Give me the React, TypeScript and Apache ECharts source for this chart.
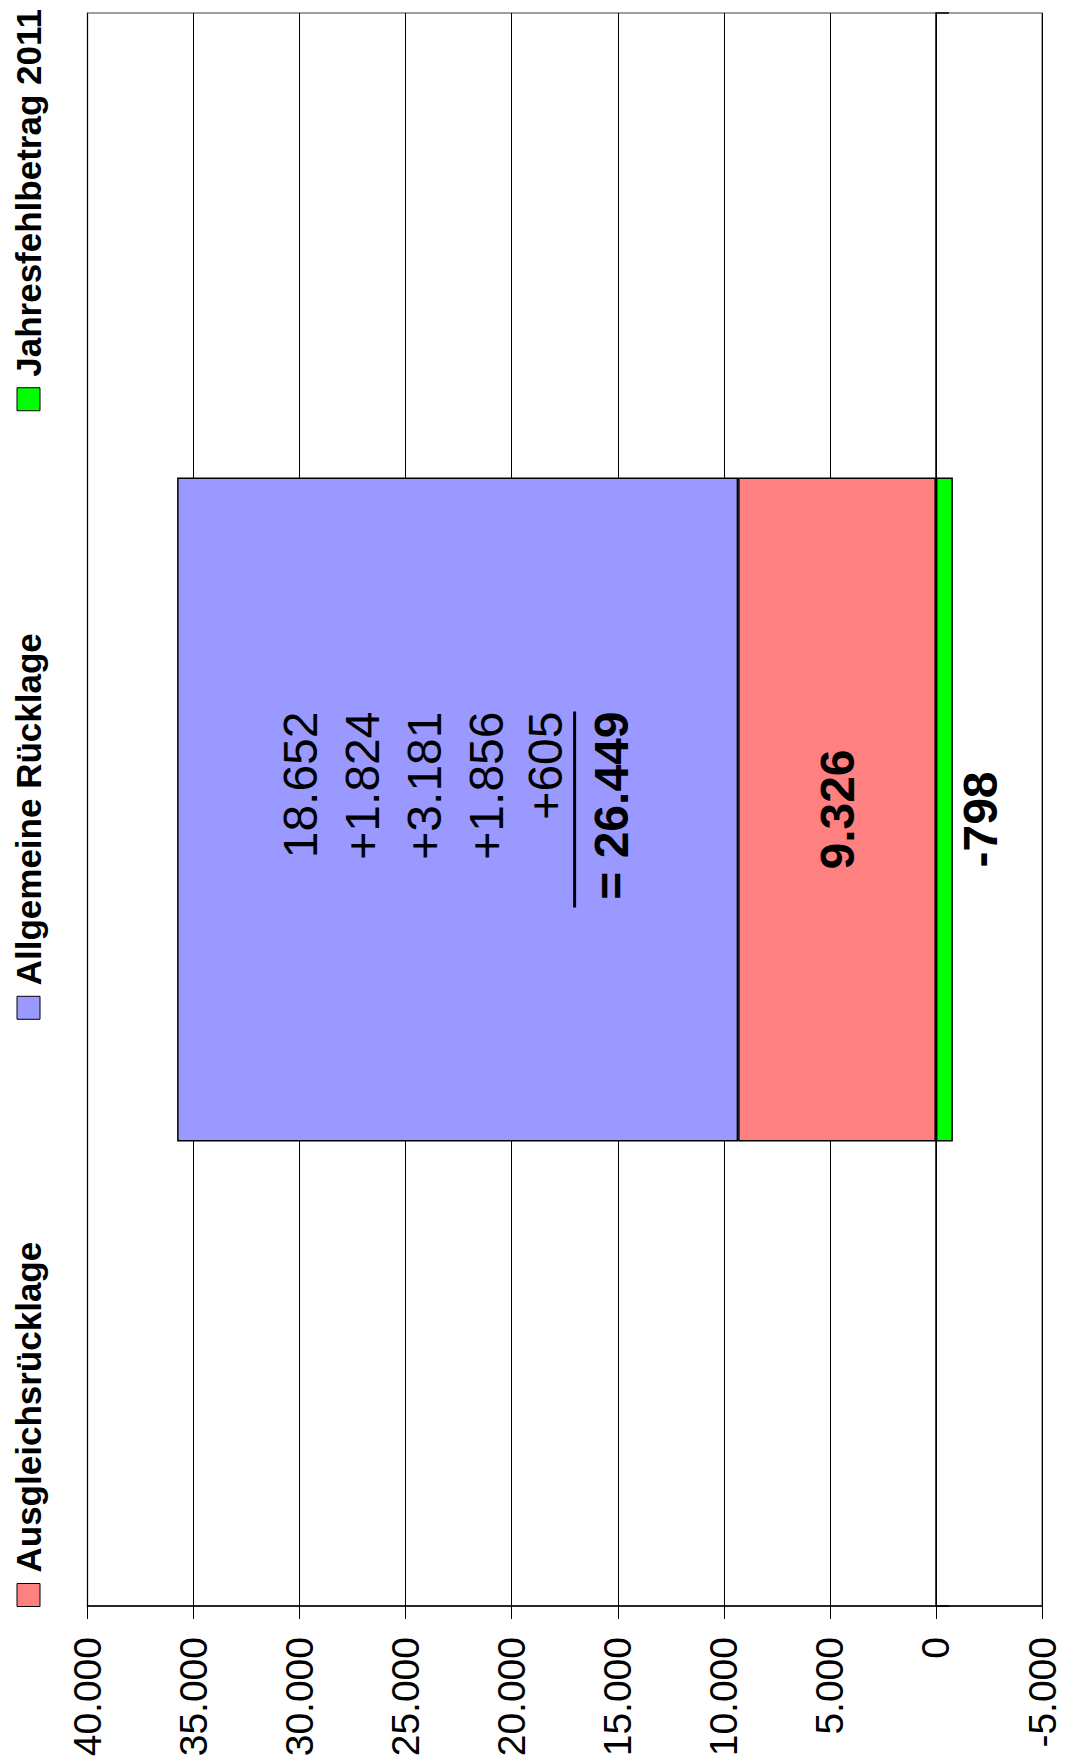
import React, { useEffect, useRef } from "react";
import * as echarts from "echarts";

// ---- data ----
const categories = ["2011"];
const seriesNames = ["Ausgleichsrücklage", "Allgemeine Rücklage", "Jahresfehlbetrag 2011"];
const ausgleichsruecklage = [9326];
const allgemeineRuecklage = [26449];
const jahresfehlbetrag = [-798];
const allgemeineParts = ["18.652", "+1.824", "+3.181", "+1.856", "+605"];
const allgemeineTotalLabel = "= 26.449";
const axisMin = -5000;
const axisMax = 40000;
const axisStep = 5000;

const FONT = "'Liberation Sans', Arial, sans-serif";

function fmtDe(v: number): string {
  const s = Math.abs(Math.round(v))
    .toString()
    .replace(/\B(?=(\d{3})+(?!\d))/g, ".");
  return (v < 0 ? "-" : "") + s;
}

export default function App() {
  const ref = useRef<HTMLDivElement>(null);

  useEffect(() => {
    if (!ref.current) return;
    const chart = echarts.init(ref.current, null, { renderer: "svg" });

    const partLines = allgemeineParts.map((p, i) =>
      i === allgemeineParts.length - 1 ? `{a2|${p}}` : `{a|${p}}`
    );
    const blueFormatter =
      partLines.join("\n") + "\n{ln| }\n" + `{b|${allgemeineTotalLabel}}`;

    chart.setOption({
      animation: false,
      backgroundColor: "#ffffff",
      textStyle: { fontFamily: FONT },
      legend: {
        data: seriesNames,
        left: 155,
        top: 11,
        width: 1607,
        padding: 0,
        itemWidth: 23,
        itemHeight: 23,
        itemGap: 222,
        icon: "rect",
        itemStyle: { borderColor: "#000", borderWidth: 1 },
        textStyle: {
          fontFamily: FONT,
          fontSize: 35,
          fontWeight: "bold",
          color: "#000",
          padding: [0, 0, 0, 6],
        },
      },
      grid: {
        left: 156,
        right: 13,
        top: 87.5,
        bottom: 23,
        show: true,
        borderColor: "#808080",
        borderWidth: 1.5,
        backgroundColor: "#fff",
      },
      xAxis: {
        type: "category",
        data: categories,
        axisLine: { show: true, onZero: true, lineStyle: { color: "#000", width: 1.5 } },
        axisTick: { show: true, length: 13, lineStyle: { color: "#000", width: 1.5 } },
        axisLabel: { show: false },
        splitLine: { show: false },
      },
      yAxis: {
        type: "value",
        min: axisMin,
        max: axisMax,
        interval: axisStep,
        axisLine: { show: true, lineStyle: { color: "#000", width: 1.5 } },
        axisTick: { show: true, length: 13, lineStyle: { color: "#000", width: 1 } },
        axisLabel: {
          margin: 31,
          fontSize: 39,
          color: "#000",
          fontFamily: FONT,
          formatter: (v: number) => fmtDe(v),
        },
        splitLine: { show: true, lineStyle: { color: "#000", width: 1 } },
      },
      series: [
        {
          name: seriesNames[0],
          type: "bar",
          stack: "total",
          data: ausgleichsruecklage,
          barWidth: "41.67%",
          itemStyle: { color: "#FF8080", borderColor: "#000", borderWidth: 1.5 },
          label: {
            show: true,
            position: "inside",
            fontFamily: FONT,
            fontSize: 48,
            fontWeight: "bold",
            color: "#000",
            formatter: (p: any) => fmtDe(p.value),
          },
        },
        {
          name: seriesNames[1],
          type: "bar",
          stack: "total",
          data: allgemeineRuecklage,
          barWidth: "41.67%",
          itemStyle: { color: "#9999FF", borderColor: "#000", borderWidth: 1.5 },
          label: {
            show: true,
            position: "inside",
            color: "#000",
            fontFamily: FONT,
            formatter: blueFormatter,
            rich: {
              a: { fontSize: 48, lineHeight: 62, align: "right", fontFamily: FONT, color: "#000" },
              a2: { fontSize: 48, lineHeight: 56, align: "right", fontFamily: FONT, color: "#000" },
              ln: {
                fontSize: 1,
                lineHeight: 3,
                height: 3,
                width: 196,
                align: "right",
                backgroundColor: "#000",
              },
              b: {
                fontSize: 48,
                lineHeight: 70,
                fontWeight: "bold",
                align: "right",
                fontFamily: FONT,
                color: "#000",
              },
            },
          },
        },
        {
          name: seriesNames[2],
          type: "bar",
          stack: "total",
          data: jahresfehlbetrag,
          barWidth: "41.67%",
          itemStyle: { color: "#00FF00", borderColor: "#000", borderWidth: 1.5 },
          label: {
            show: true,
            position: "bottom",
            distance: 4,
            offset: [-10, 0],
            fontFamily: FONT,
            fontSize: 48,
            fontWeight: "bold",
            color: "#000",
            formatter: (p: any) => fmtDe(p.value),
          },
        },
      ],
    });

    return () => chart.dispose();
  }, []);

  return (
    <div
      style={{
        position: "absolute",
        left: 0,
        top: 0,
        width: 1065,
        height: 1762,
        overflow: "hidden",
        background: "#fff",
      }}
    >
      <div
        ref={ref}
        style={{
          position: "absolute",
          left: 0,
          top: 0,
          width: 1762,
          height: 1065,
          transformOrigin: "0 0",
          transform: "translateY(1762px) rotate(-90deg)",
        }}
      />
    </div>
  );
}
